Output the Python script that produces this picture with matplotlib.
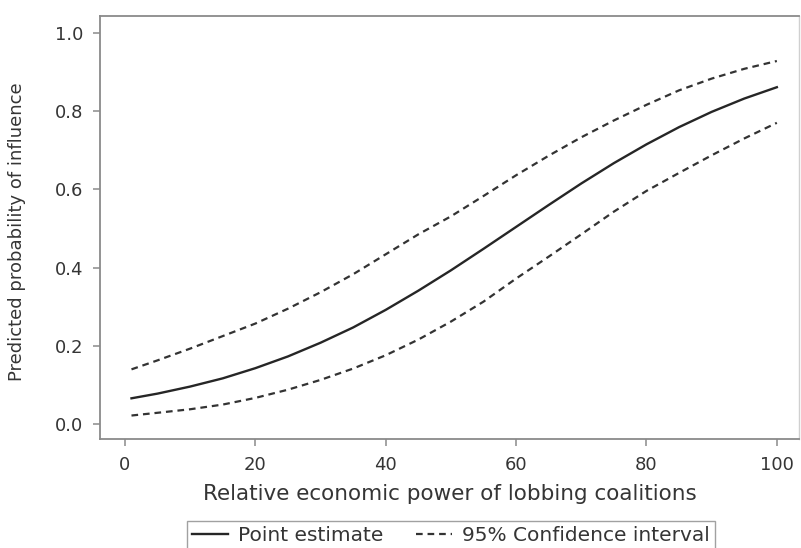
import matplotlib.pyplot as plt

# values
power = [1, 5, 10, 15, 20, 25, 30, 35, 40, 45, 50,
         55, 60, 65, 70, 75, 80, 85, 90, 95, 100]
point_est = [0.066, 0.078, 0.096, 0.117, 0.143, 0.173, 0.208, 0.247, 0.292, 0.341, 0.393,
             0.448, 0.504, 0.560, 0.615, 0.667, 0.715, 0.759, 0.798, 0.832, 0.861]
ci_upper = [0.140, 0.163, 0.193, 0.225, 0.257, 0.295, 0.337, 0.383, 0.434, 0.485, 0.531,
            0.583, 0.636, 0.686, 0.733, 0.776, 0.816, 0.853, 0.883, 0.908, 0.928]
ci_lower = [0.022, 0.029, 0.038, 0.050, 0.067, 0.088, 0.113, 0.142, 0.176, 0.216, 0.262,
            0.313, 0.372, 0.428, 0.485, 0.543, 0.596, 0.642, 0.687, 0.730, 0.770]

xticks = [0, 20, 40, 60, 80, 100]
yticks = [0.0, 0.2, 0.4, 0.6, 0.8, 1.0]

txt = '#353535'
grey = '#8a8a8a'
plt.rcParams['font.family'] = ['DejaVu Sans']

fig = plt.figure(figsize=(8.01, 5.48), dpi=100)
ax = fig.add_axes([100 / 801, 109 / 548, 699 / 801, 423 / 548])

ax.plot(power, point_est, color='#262626', lw=1.7, label='Point estimate')
ax.plot(power, ci_upper, color='#333333', lw=1.6, dashes=(3, 2.2),
        label='95% Confidence interval')
ax.plot(power, ci_lower, color='#333333', lw=1.6, dashes=(3, 2.2))

ax.set_xlim(-3.83, 103.4)
ax.set_ylim(-0.038, 1.043)
ax.set_xticks(xticks)
ax.set_yticks(yticks)
ax.set_yticklabels(['%.1f' % v for v in yticks])

for side in ['left', 'bottom', 'top']:
    ax.spines[side].set_color(grey)
    ax.spines[side].set_linewidth(1.3)
ax.spines['right'].set_color('#d0d0d0')
ax.spines['right'].set_linewidth(1.0)

ax.tick_params(direction='out', length=5, width=1.1, color=grey,
               labelcolor=txt, labelsize=13)
ax.tick_params(axis='x', pad=7)
ax.tick_params(axis='y', pad=7)

ax.set_xlabel('Relative economic power of lobbing coalitions', fontsize=15.5, color=txt)
ax.set_ylabel('Predicted probability of influence', fontsize=13, color=txt)
ax.xaxis.set_label_coords(0.5, -0.130)
ax.xaxis.label.set_va('center')
ax.yaxis.set_label_coords(-0.119, 0.489)
ax.yaxis.label.set_va('center')

leg = fig.legend(loc='upper center', bbox_to_anchor=(451 / 801, 27 / 548), ncol=2,
                 frameon=True, fancybox=False, fontsize=14.5, handlelength=1.8,
                 handletextpad=0.5, columnspacing=1.6, borderpad=0.25,
                 borderaxespad=0)
leg.get_frame().set_edgecolor(grey)
leg.get_frame().set_linewidth(1.0)
for t in leg.get_texts():
    t.set_color(txt)

fig.savefig('out.png', dpi=100)
